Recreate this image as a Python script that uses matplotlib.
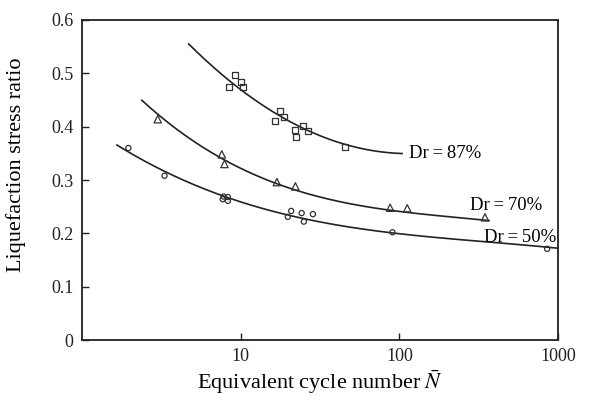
import numpy as np
import matplotlib
matplotlib.use('Agg')
import matplotlib.pyplot as plt

plt.rcParams['font.family'] = ['Liberation Serif', 'DejaVu Serif']
plt.rcParams['mathtext.fontset'] = 'stix'

# Test points
n_87 = [9.2, 10.0, 8.4, 10.4, 17.6, 18.7, 16.4, 24.7, 21.9, 26.7, 22.2, 45.2]
r_87 = [0.496, 0.483, 0.475, 0.475, 0.430, 0.419, 0.411, 0.402, 0.394, 0.391, 0.380, 0.362]

n_70 = [3.0, 7.6, 7.9, 16.9, 22.1, 87.4, 112, 346]
r_70 = [0.414, 0.348, 0.330, 0.296, 0.288, 0.248, 0.247, 0.230]

n_50 = [1.96, 3.31, 7.8, 8.3, 7.7, 8.3, 20.8, 19.8, 24.2, 25.0, 28.5, 90.4, 853]
r_50 = [0.360, 0.308, 0.269, 0.268, 0.264, 0.261, 0.242, 0.231, 0.238, 0.222, 0.236, 0.202, 0.171]

# Points along the drawn trend curves
curve_n_87 = [4.7, 8.0, 17.8, 44.7, 104]
curve_r_87 = [0.556, 0.490, 0.422, 0.366, 0.350]
curve_n_70 = [2.38, 4.37, 7.45, 16.9, 42.7, 88.4, 367]
curve_r_70 = [0.450, 0.384, 0.344, 0.291, 0.261, 0.242, 0.224]
curve_n_50 = [1.66, 2.32, 8.2, 19.6, 88, 360, 1000]
curve_r_50 = [0.367, 0.338, 0.269, 0.234, 0.201, 0.184, 0.172]

labels = ['Dr\u2009=\u200987%', 'Dr\u2009=\u200970%', 'Dr\u2009=\u200950%']


def trend(ax, cn, cr, deg):
  # smooth trend through the read curve points, in log N
  lx = np.log10(cn)
  coef = np.polyfit(lx, cr, deg)
  xs = np.linspace(lx[0], lx[-1], 200)
  ax.plot(10 ** xs, np.polyval(coef, xs), color='#222222', linewidth=1.2)


fig = plt.figure(figsize=(5.9, 3.96), dpi=100)
ax = fig.add_axes([0.139, 0.1414, 0.807, 0.8081])

trend(ax, curve_n_87, curve_r_87, 2)
trend(ax, curve_n_70, curve_r_70, 3)
trend(ax, curve_n_50, curve_r_50, 3)

mk = dict(facecolor='none', edgecolor='#333333', linewidths=0.9, zorder=3)
ax.scatter(n_87, r_87, marker='s', s=19, **mk)
ax.scatter(n_70, r_70, marker='^', s=28, **mk)
ax.scatter(n_50, r_50, marker='o', s=14, **mk)

ax.text(115, 0.349, labels[0], fontsize=13.5, va='center', ha='left')
ax.text(280, 0.253, labels[1], fontsize=13.5, va='center', ha='left')
ax.text(343, 0.193, labels[2], fontsize=13.5, va='center', ha='left')

ax.set_xscale('log')
ax.set_xlim(1, 1000)
ax.set_ylim(0, 0.6)
ax.set_xticks([10, 100, 1000])
ax.set_xticklabels(['10', '100', '1000'])
ax.xaxis.set_minor_locator(matplotlib.ticker.NullLocator())
ax.set_yticks([0, 0.1, 0.2, 0.3, 0.4, 0.5, 0.6])
ax.set_yticklabels(['0', '0.1', '0.2', '0.3', '0.4', '0.5', '0.6'])
ax.tick_params(direction='in', length=5, width=1, labelsize=13, colors='#222222', pad=6)

for s in ax.spines.values():
  s.set_linewidth(1.3)
  s.set_color('#222222')

ax.set_xlabel(r'Equivalent cycle number $\bar{N}$', fontsize=16, labelpad=2)
ax.set_ylabel('Liquefaction stress ratio', fontsize=16, labelpad=7)
ax.yaxis.set_label_coords(-0.118, 0.547)

fig.savefig('out.png', dpi=100)
